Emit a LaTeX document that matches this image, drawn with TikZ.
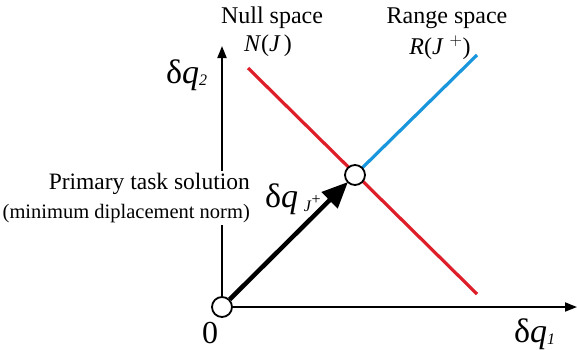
\documentclass[tikz,border=0pt]{standalone}
\usepackage{fontspec}
\setmainfont{Liberation Serif}
\usetikzlibrary{arrows.meta}
\definecolor{nullred}{RGB}{222,30,40}
\definecolor{rangeblue}{RGB}{25,150,220}
\begin{document}
\begin{tikzpicture}[x=1pt,y=-1pt,
  axis/.style={line width=1.8pt,-{Triangle[length=12pt,width=9pt]}},
  pt/.style={circle,draw,line width=1.8pt,fill=white,minimum size=20pt,inner sep=0pt},
  lbl/.style={font=\fontsize{24}{26}\selectfont,inner sep=0pt},
  big/.style={font=\fontsize{34}{34}\selectfont,anchor=base west,inner sep=0pt}]
\useasboundingbox (0,0) rectangle (577,349);
\coordinate (o) at (222,307);
\coordinate (ytip) at (222,46);
\coordinate (xtip) at (577,307);
\coordinate (rs) at (248,68);
\coordinate (re) at (477,294);
\coordinate (be) at (477,55);
\draw[axis] (o) -- (ytip);
\draw[axis] (o) -- (xtip);
\node[font=\fontsize{23.5}{29}\selectfont,fill=white,align=right,anchor=east,inner sep=2pt] (prim) at (252,198)
  {Primary task solution\\{\fontsize{20.5}{29}\selectfont (minimum diplacement norm)}};
\draw[nullred,line width=3.2pt] (rs) -- (re);
\draw[rangeblue,line width=3.2pt] (355,175) -- (be);
\node[pt] (c) at (355,175) {};
\node[pt] (z) at (o) {};
\draw[line width=4.5pt,-{Triangle[length=26pt,width=22pt]},shorten >=-1pt] (z) -- (c);
\node[lbl] (nulltxt) at (272,18) {Null space};
\node[lbl] (nullj) at (268,46) {\textit{N}(\textit{J\,})};
\node[lbl] (rangetxt) at (447,18) {Range space};
\node[lbl] (rangej) at (440,48) {\textit{R}(\textit{J\,}$^{\,+}$)};
\node[big] (dq2) at (166,83) {δ\textit{q}{\fontsize{16}{16}\selectfont\raisebox{-2pt}{\textit{2}}}};
\node[big] (dq1) at (514,342) {δ\textit{q}{\fontsize{16}{16}\selectfont\raisebox{-2pt}{\textit{1}}}};
\node[big] (dqj) at (265,207) {δ\textit{q}\,{\fontsize{16}{16}\selectfont\raisebox{-4pt}{\textit{J}}\raisebox{3pt}{+}}};
\node[font=\fontsize{32}{32}\selectfont,inner sep=0pt] (zero) at (210,333) {0};
\end{tikzpicture}
\end{document}
